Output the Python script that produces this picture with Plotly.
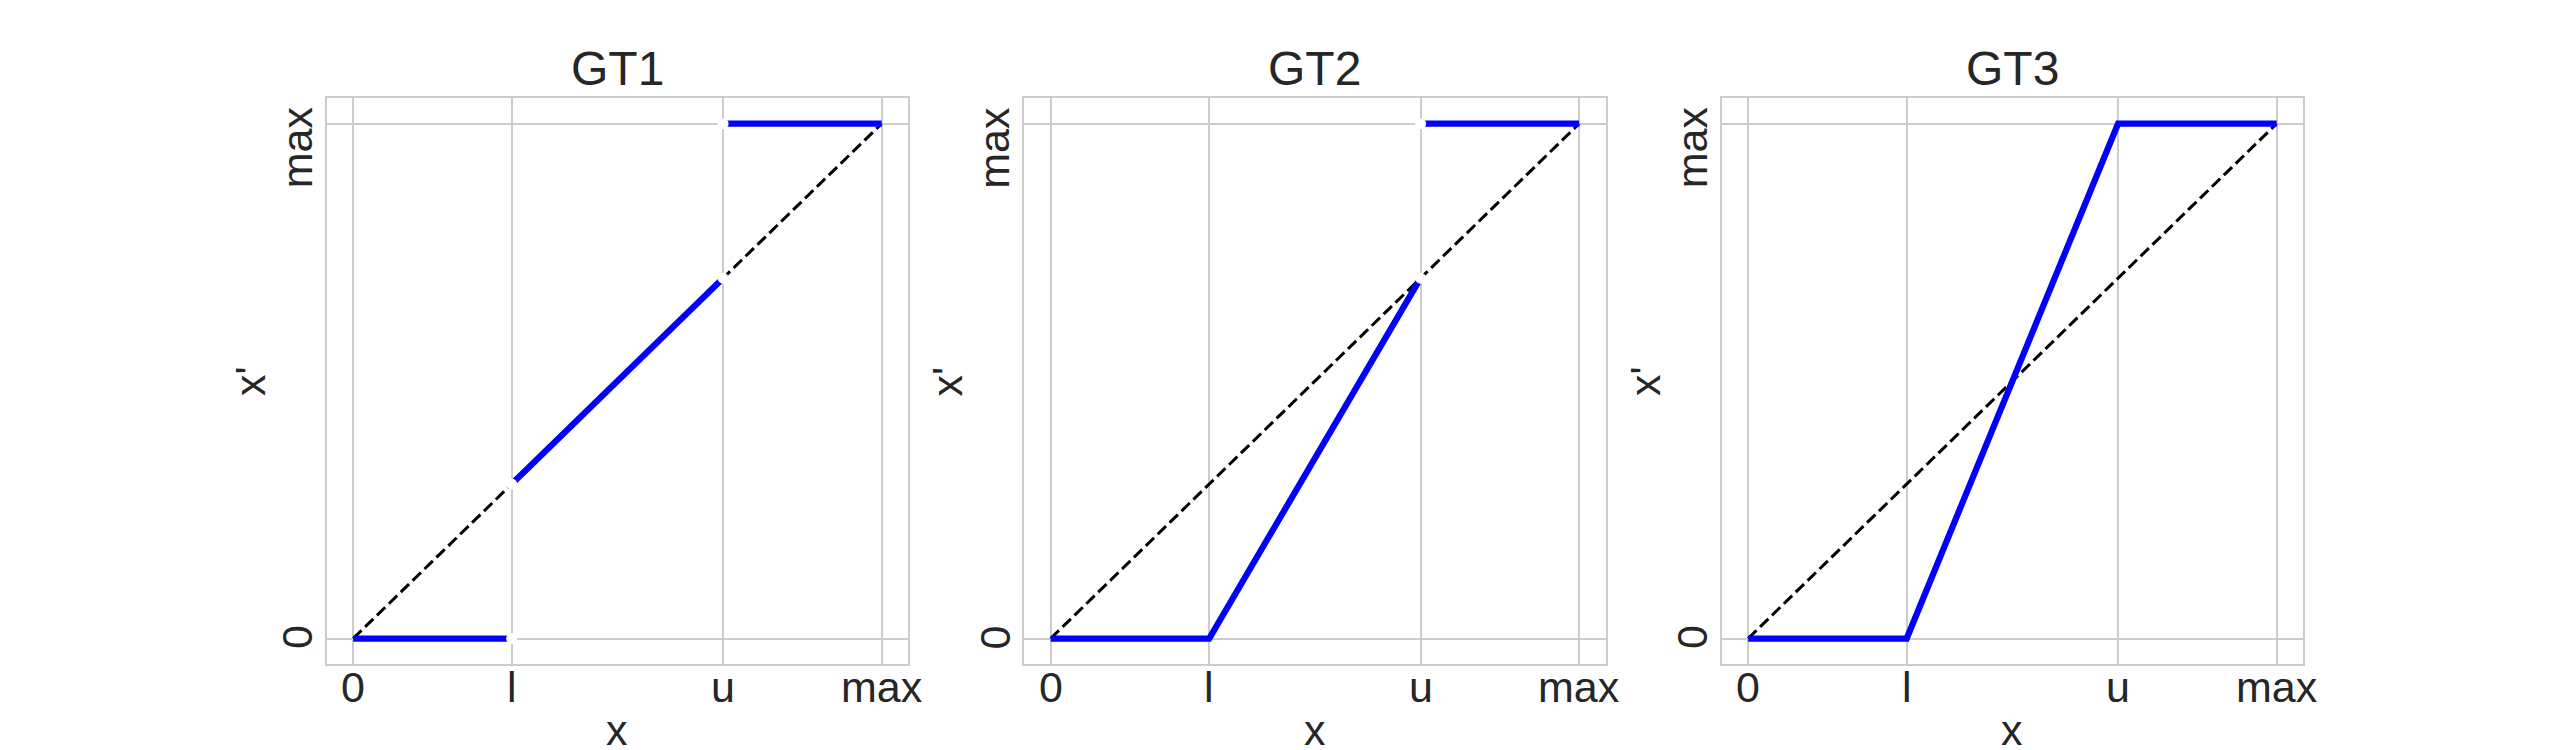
import plotly.graph_objects as go

# ---- data ----
panel_titles = ["GT1", "GT2", "GT3"]
x_tick_vals = [0, 0.3, 0.7, 1.0]
x_tick_text = ["0", "l", "u", "max"]
y_tick_vals = [0, 1.0]
y_tick_text = ["0", "max"]
x_label = "x"
y_label = "x'"

diag_x = [0, 1.0]
diag_y = [0, 1.0]

gt1_x = [0, 0.3, None, 0.3, 0.7, None, 0.7, 1.0]
gt1_y = [0, 0, None, 0.3, 0.7, None, 1.0, 1.0]
gt2_x = [0, 0.3, 0.7, None, 0.7, 1.0]
gt2_y = [0, 0, 0.7, None, 1.0, 1.0]
gt3_x = [0, 0.3, 0.7, 1.0]
gt3_y = [0, 0, 1.0, 1.0]

gt1_open_x = [0.3, 0.3, 0.7, 0.7]
gt1_open_y = [0, 0.3, 0.7, 1.0]
gt2_open_x = [0.7, 0.7]
gt2_open_y = [0.7, 1.0]
gt3_open_x = []
gt3_open_y = []

series = [
    (gt1_x, gt1_y, gt1_open_x, gt1_open_y),
    (gt2_x, gt2_y, gt2_open_x, gt2_open_y),
    (gt3_x, gt3_y, gt3_open_x, gt3_open_y),
]

# ---- layout constants (pixels) ----
W, H = 2550, 750
FONT = "Liberation Sans, Arial, sans-serif"
TXT = "#262626"
GRID = "#cccccc"
FS = 43
ax_w = 581.25
lefts = [318.75, 1016.25, 1713.75]
top_px, bot_px = 90, 656.25
dom_y = [1 - bot_px / H, 1 - top_px / H]
ytick_shift = {"0": 1, "max": -24}   # px, plotly yshift (positive = up)
MID = 0.3465                          # baseline -> text-box centre, in em


def py(px):
    return 1 - px / H


fig = go.Figure()
for i, (sx, sy, ox, oy) in enumerate(series):
    n = "" if i == 0 else str(i + 1)
    xa, ya = "x" + n, "y" + n
    fig.add_trace(go.Scatter(x=diag_x, y=diag_y, mode="lines",
                             line=dict(color="black", width=3, dash="11.6px,5px"),
                             xaxis=xa, yaxis=ya, showlegend=False, hoverinfo="skip"))
    fig.add_trace(go.Scatter(x=sx, y=sy, mode="lines",
                             line=dict(color="#0000ff", width=6.25),
                             connectgaps=False,
                             xaxis=xa, yaxis=ya, showlegend=False))
    if ox:
        fig.add_trace(go.Scatter(x=ox, y=oy, mode="markers",
                                 marker=dict(color="white", size=11, line=dict(width=0)),
                                 xaxis=xa, yaxis=ya, showlegend=False, hoverinfo="skip"))
    x0 = lefts[i] / W
    x1 = (lefts[i] + ax_w) / W
    axcommon = dict(showline=True, mirror=True, linecolor=GRID, linewidth=2,
                    showgrid=True, gridcolor=GRID, gridwidth=2, zeroline=False,
                    ticks="", showticklabels=False, range=[-0.05, 1.05], fixedrange=True)
    fig.update_layout(**{
        "xaxis" + n: dict(domain=[x0, x1], anchor=ya, tickvals=x_tick_vals, **axcommon),
        "yaxis" + n: dict(domain=dom_y, anchor=xa, tickvals=y_tick_vals, **axcommon),
    })
    font = dict(size=FS, color=TXT, family=FONT)
    # x tick labels (baseline at 694 px)
    for v, t in zip(x_tick_vals, x_tick_text):
        fig.add_annotation(text=t, xref=xa, yref="paper", x=v, y=py(694 - MID * FS),
                           xanchor="center", yanchor="middle", showarrow=False, font=font)
    # y tick labels, rotated (baseline ~15 px left of the frame)
    for v, t in zip(y_tick_vals, y_tick_text):
        fig.add_annotation(text=t, xref="paper", yref=ya,
                           x=(lefts[i] - 15.25 - MID * FS) / W, y=v,
                           yshift=ytick_shift[t],
                           textangle=-90, xanchor="center", yanchor="middle",
                           showarrow=False, font=font)
    # axis titles
    fig.add_annotation(text=x_label, xref=xa + " domain", yref="paper", x=0.5,
                       y=py(737 - MID * FS), xanchor="center", yanchor="middle",
                       showarrow=False, font=font)
    fig.add_annotation(text=y_label, xref="paper", yref=ya + " domain",
                       x=(lefts[i] - 62 - MID * FS) / W, y=0.5, textangle=-90,
                       xanchor="center", yanchor="middle", showarrow=False, font=font)
    # panel title
    fig.add_annotation(text=panel_titles[i], xref=xa + " domain", yref="paper",
                       x=0.5, y=py(76.7 - MID * 48), xanchor="center", yanchor="middle",
                       showarrow=False, font=dict(size=48, color=TXT, family=FONT))

fig.update_layout(width=W, height=H, margin=dict(l=0, r=0, t=0, b=0),
                  plot_bgcolor="white", paper_bgcolor="white",
                  font=dict(family=FONT, color=TXT))
fig.write_html("out.html")
